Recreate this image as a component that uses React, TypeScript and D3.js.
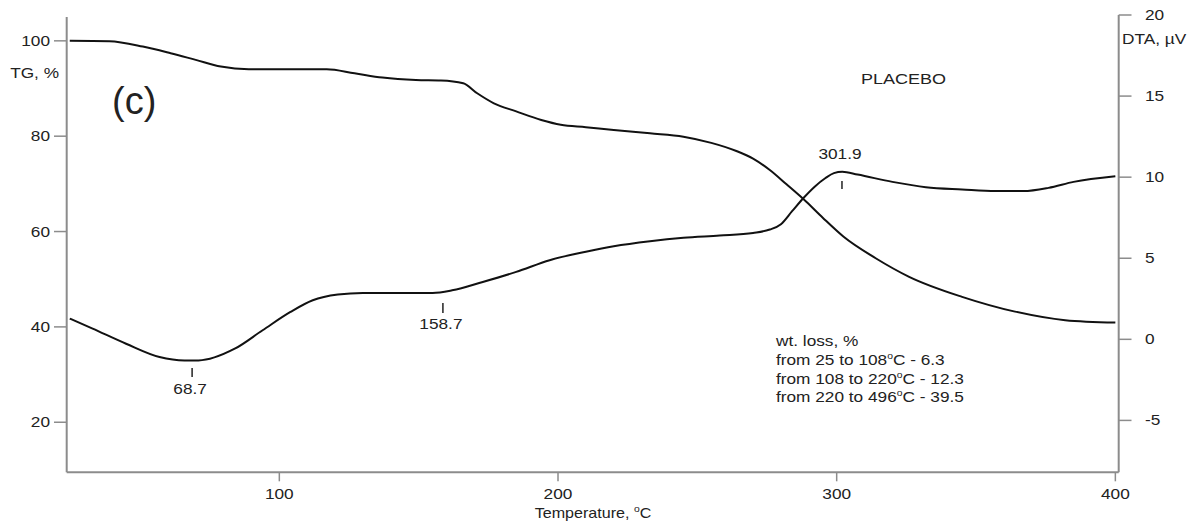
import React from "react";
import * as d3 from "d3";

// ---- data ----
const tgTemp = [24.8, 39, 51, 61, 70, 79, 89, 100, 117, 127, 137, 149, 158, 166, 171, 177, 185, 194, 201, 210, 220, 233, 245, 255, 264, 270, 276, 282, 289, 295, 302.5, 314, 326, 345, 364, 382, 400];
const tgValue = [100, 99.9, 98.8, 97.4, 96, 94.6, 94.05, 94.05, 94.05, 93.2, 92.3, 91.8, 91.7, 91.1, 89, 86.9, 85.2, 83.4, 82.4, 81.9, 81.3, 80.6, 79.9, 78.6, 76.9, 75.3, 72.9, 69.9, 66.3, 62.9, 58.9, 54.4, 50.5, 46.3, 43.2, 41.4, 40.9];

const dtaTemp = [24.8, 33, 45, 57, 66, 71, 84, 94, 104, 112, 121, 130, 143, 155, 162, 173, 185, 197, 210, 220, 233, 245, 258, 270, 276, 280, 284, 288, 292, 296, 299, 302, 307.5, 320, 332, 345, 357, 367, 376, 385, 400];
const dtaValue = [1.28, 0.66, -0.27, -1.09, -1.3, -1.3, -0.58, 0.56, 1.69, 2.41, 2.76, 2.86, 2.86, 2.86, 3.02, 3.54, 4.16, 4.88, 5.4, 5.74, 6.05, 6.26, 6.4, 6.56, 6.77, 7.1, 7.9, 8.7, 9.4, 9.95, 10.25, 10.33, 10.16, 9.71, 9.38, 9.24, 9.14, 9.14, 9.34, 9.71, 10.06];

const xTicks = [100, 200, 300, 400];
const tgTicks = [20, 40, 60, 80, 100];
const dtaTicks = [-5, 0, 5, 10, 15, 20];

const peakTemps = [68.7, 158.7, 301.9];
const peakLabels = ["68.7", "158.7", "301.9"];

const lossHeader = "wt. loss, %";
const lossRanges = [
  ["from 25 to 108", "C - 6.3"],
  ["from 108 to 220", "C - 12.3"],
  ["from 220 to 496", "C - 39.5"],
];

// ---- layout ----
const W = 1195;
const H = 523;
const left = 66.7;
const right = 1118.7;
const bottom = 472.3;

const FONT = "'Liberation Sans', Arial, Helvetica, sans-serif";
const TXT = "#222";
const AXIS = "#8c8c8c";
const SX = 1.15;

function T({ x, y, anchor = "start", size = 15, sx = SX, children }: any) {
  return (
    <text
      transform={`translate(${x},${y}) scale(${sx},1)`}
      textAnchor={anchor}
      fontFamily={FONT}
      fontSize={size}
      fill={TXT}
    >
      {children}
    </text>
  );
}

export default function App() {
  const x = d3.scaleLinear().domain([23.7, 401.2]).range([left, right]);
  const yTG = d3.scaleLinear().domain([9.5, 105]).range([bottom, 17]);
  const yDTA = d3.scaleLinear().domain([-8.2, 20]).range([bottom, 15]);

  const tgLine = d3
    .line<number>()
    .x((_, i) => x(tgTemp[i]))
    .y((d) => yTG(d))
    .curve(d3.curveMonotoneX);
  const dtaLine = d3
    .line<number>()
    .x((_, i) => x(dtaTemp[i]))
    .y((d) => yDTA(d))
    .curve(d3.curveMonotoneX);

  const markerY = [
    [368, 377, 389],
    [303, 313, 324],
    [181, 189, 154],
  ];

  return (
    <svg
      width={W}
      height={H}
      style={{ position: "absolute", left: 0, top: 0, background: "#fff" }}
    >
      <rect x={0} y={0} width={W} height={H} fill="#fff" />
      {/* axes */}
      <line x1={left} y1={17} x2={left} y2={bottom} stroke={AXIS} strokeWidth={2} />
      <line x1={right} y1={15} x2={right} y2={bottom} stroke={AXIS} strokeWidth={2} />
      <line x1={left} y1={bottom} x2={right} y2={bottom} stroke={AXIS} strokeWidth={2} />

      {/* left ticks */}
      {tgTicks.map((t) => (
        <g key={"l" + t}>
          <line x1={54} x2={left} y1={yTG(t)} y2={yTG(t)} stroke={AXIS} strokeWidth={1.5} />
          <T x={50} y={yTG(t) + 5} anchor="end">{t}</T>
        </g>
      ))}
      <T x={59} y={78} anchor="end">TG, %</T>

      {/* right ticks */}
      {dtaTicks.map((t) => (
        <g key={"r" + t}>
          <line x1={right} x2={1131.5} y1={yDTA(t)} y2={yDTA(t)} stroke={AXIS} strokeWidth={1.5} />
          <T x={1145} y={yDTA(t) + 5}>{t}</T>
        </g>
      ))}
      <T x={1122} y={44}>DTA, µV</T>

      {/* bottom ticks */}
      {xTicks.map((t) => (
        <g key={"b" + t}>
          <line x1={x(t)} x2={x(t)} y1={bottom} y2={bottom + 9} stroke={AXIS} strokeWidth={1.5} />
          <T x={x(t)} y={499} anchor="middle">{t}</T>
        </g>
      ))}
      <T x={593} y={518} anchor="middle" size={14}>
        Temperature,{" "}
        <tspan fontSize={9} dy={-6}>o</tspan>
        <tspan dy={6}>C</tspan>
      </T>

      {/* curves */}
      <path d={tgLine(tgValue) || ""} fill="none" stroke="#111" strokeWidth={2} />
      <path d={dtaLine(dtaValue) || ""} fill="none" stroke="#111" strokeWidth={2} />

      {/* peak markers */}
      {peakTemps.map((p, i) => (
        <g key={"p" + i}>
          <line x1={x(p)} x2={x(p)} y1={markerY[i][0]} y2={markerY[i][1]} stroke="#222" strokeWidth={1.5} />
          <T x={x(p) - 2} y={markerY[i][2] + 5} anchor="middle">{peakLabels[i]}</T>
        </g>
      ))}

      {/* annotations */}
      <T x={112} y={114} size={38} sx={1}>(c)</T>
      <T x={861} y={84} size={15} sx={1.2}>PLACEBO</T>

      <T x={776} y={346}>{lossHeader}</T>
      {lossRanges.map((r, i) => (
        <T key={"w" + i} x={776} y={365 + i * 18.7}>
          {r[0]}
          <tspan fontSize={9} dy={-6}>o</tspan>
          <tspan dy={6}>{r[1]}</tspan>
        </T>
      ))}
    </svg>
  );
}
